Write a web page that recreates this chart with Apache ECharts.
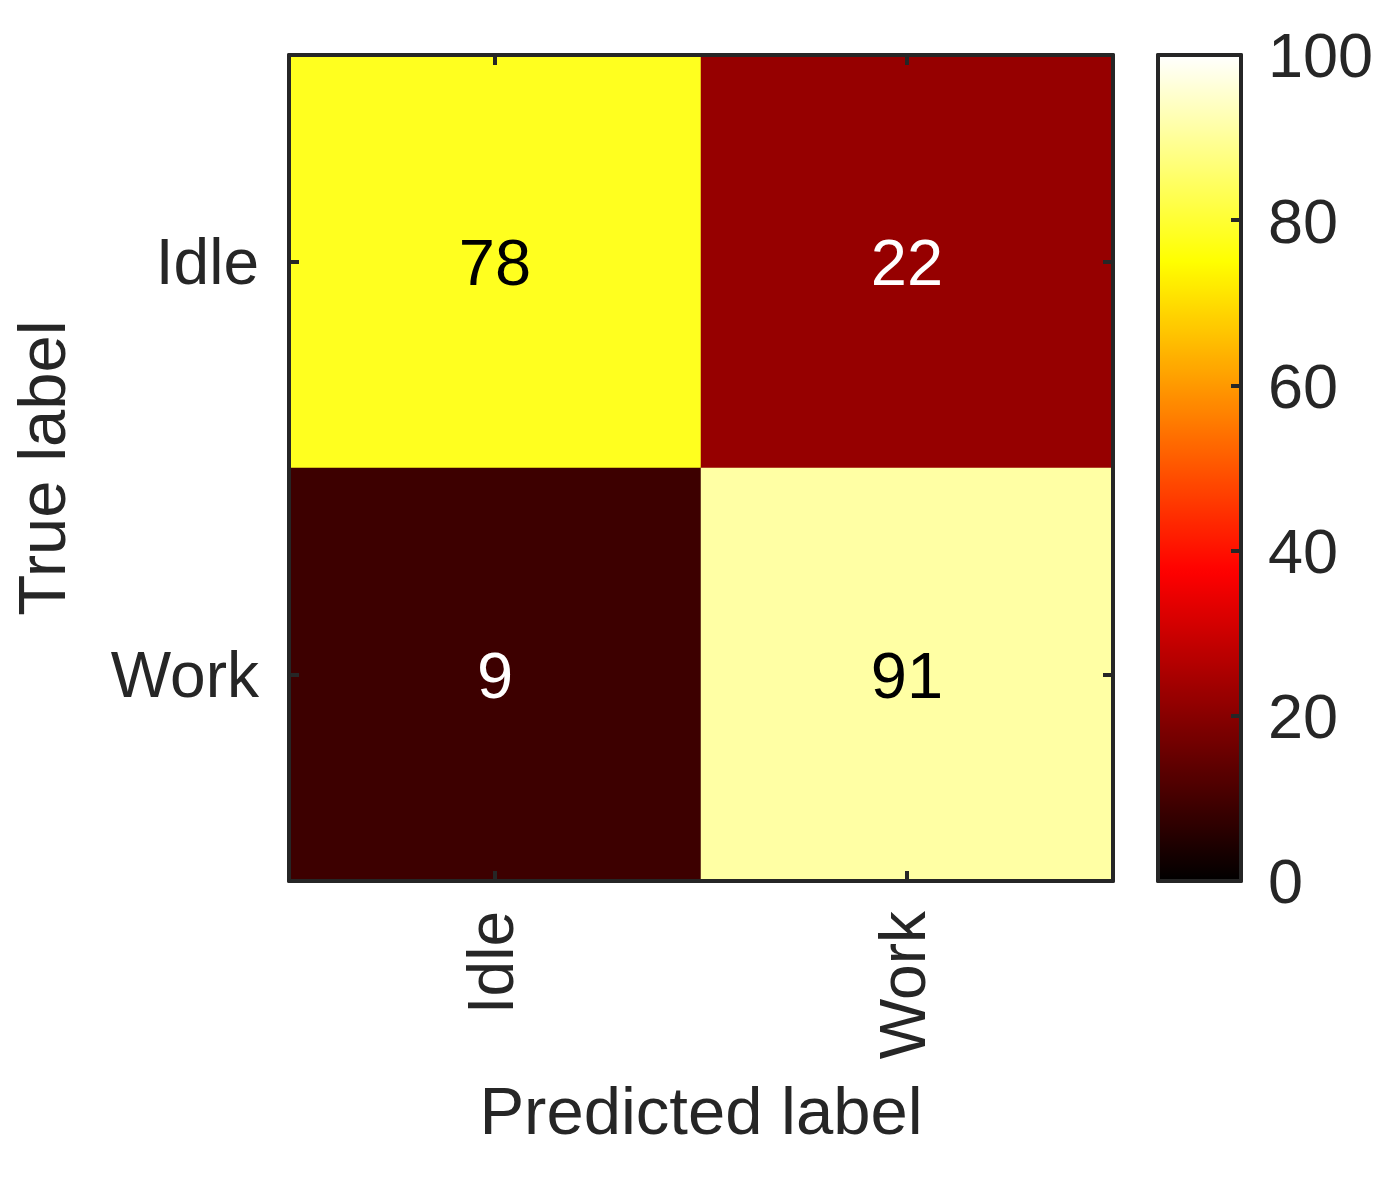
<!DOCTYPE html>
<html>
<head>
<meta charset="utf-8">
<script src="https://cdn.jsdelivr.net/npm/echarts@6/dist/echarts.min.js"></script>
<style>
html,body{margin:0;padding:0;background:#fff;}
#chart{width:1400px;height:1182px;}
</style>
</head>
<body>
<div id="chart"></div>
<script>
// ---- data ----
const predictedLabels = ['Idle', 'Work'];
const trueLabels = ['Idle', 'Work'];
// rows = true label, columns = predicted label
const rowIdle = [78, 22];
const rowWork = [9, 91];
const colorbarTicks = [0, 20, 40, 60, 80, 100];
// MATLAB "hot" colormap stops (low -> high)
const hotColors = ['#000000', '#550000', '#aa0000', '#ff0000', '#ff5500', '#ffaa00', '#ffff00', '#ffff80', '#ffffff'];

const rows = [rowIdle, rowWork];
const data = [];
rows.forEach(function (row, r) {
  row.forEach(function (v, c) {
    data.push({
      value: [c, r, v],
      label: { color: v > 50 ? '#000000' : '#ffffff' }
    });
  });
});

const FONT = '"Liberation Sans", Arial, Helvetica, sans-serif';
const AX = '#262626';
const LW = 4;
const chart = echarts.init(document.getElementById('chart'), null, { renderer: 'canvas' });

const option = {
  backgroundColor: '#ffffff',
  animation: false,
  textStyle: { fontFamily: FONT },
  grid: [
    { left: 289, top: 55, width: 824, height: 826, containLabel: false },
    { left: 1158, top: 55, width: 83, height: 826, containLabel: false }
  ],
  xAxis: [
    {
      gridIndex: 0, type: 'category', data: predictedLabels, position: 'bottom', z: 10,
      name: 'Predicted label', nameLocation: 'middle', nameGap: 201,
      nameTextStyle: { fontSize: 67, color: AX, fontFamily: FONT },
      axisLine: { show: true, lineStyle: { color: AX, width: LW } },
      axisTick: { show: true, inside: true, alignWithLabel: true, length: 10, lineStyle: { color: AX, width: LW } },
      axisLabel: { rotate: 90, fontSize: 64, color: AX, margin: 30, fontFamily: FONT, lineHeight: 56 },
      splitLine: { show: false }
    },
    {
      gridIndex: 0, type: 'category', data: predictedLabels, position: 'top', z: 10,
      axisLine: { show: true, lineStyle: { color: AX, width: LW } },
      axisTick: { show: true, inside: true, alignWithLabel: true, length: 10, lineStyle: { color: AX, width: LW } },
      axisLabel: { show: false },
      splitLine: { show: false }
    },
    {
      gridIndex: 1, type: 'value', min: 0, max: 1, position: 'bottom', z: 10,
      axisLine: { show: true, onZero: false, lineStyle: { color: AX, width: LW } },
      axisTick: { show: false }, axisLabel: { show: false }, splitLine: { show: false }
    },
    {
      gridIndex: 1, type: 'value', min: 0, max: 1, position: 'top', z: 10,
      axisLine: { show: true, onZero: false, lineStyle: { color: AX, width: LW } },
      axisTick: { show: false }, axisLabel: { show: false }, splitLine: { show: false }
    }
  ],
  yAxis: [
    {
      gridIndex: 0, type: 'category', data: trueLabels, inverse: true, position: 'left', z: 10,
      name: 'True label', nameLocation: 'middle', nameGap: 209, nameRotate: 90,
      nameTextStyle: { fontSize: 67, color: AX, fontFamily: FONT },
      axisLine: { show: true, lineStyle: { color: AX, width: LW } },
      axisTick: { show: true, inside: true, alignWithLabel: true, length: 10, lineStyle: { color: AX, width: LW } },
      axisLabel: {
        color: AX, margin: 30,
        formatter: function (v) { return '{t|' + v + '}'; },
        rich: { t: { fontSize: 64, color: AX, fontFamily: FONT, padding: [10, 0, 0, 0] } }
      },
      splitLine: { show: false }
    },
    {
      gridIndex: 0, type: 'category', data: trueLabels, inverse: true, position: 'right', z: 10,
      axisLine: { show: true, lineStyle: { color: AX, width: LW } },
      axisTick: { show: true, inside: true, alignWithLabel: true, length: 10, lineStyle: { color: AX, width: LW } },
      axisLabel: { show: false },
      splitLine: { show: false }
    },
    {
      gridIndex: 1, type: 'value', min: 0, max: 100, interval: 20, position: 'right', z: 10,
      axisLine: { show: true, onZero: false, lineStyle: { color: AX, width: LW } },
      axisTick: { show: true, inside: true, length: 10, lineStyle: { color: AX, width: LW } },
      axisLabel: {
        color: AX, margin: 27,
        formatter: function (v) { return colorbarTicks.indexOf(v) >= 0 ? '{t|' + v + '}' : ''; },
        rich: { t: { fontSize: 63, color: AX, fontFamily: FONT, padding: [10, 0, 0, 0] } }
      },
      splitLine: { show: false }
    },
    {
      gridIndex: 1, type: 'value', min: 0, max: 100, interval: 20, position: 'left', z: 10,
      axisLine: { show: true, onZero: false, lineStyle: { color: AX, width: LW } },
      axisTick: { show: false }, axisLabel: { show: false }, splitLine: { show: false }
    }
  ],
  visualMap: {
    type: 'continuous',
    min: 0, max: 100,
    orient: 'vertical',
    left: 1158, top: 55,
    itemWidth: 83, itemHeight: 826,
    padding: 0,
    calculable: false,
    realtime: false,
    showLabel: false,
    text: null,
    seriesIndex: 0,
    inRange: { color: hotColors },
    z: 4
  },
  series: [
    {
      type: 'heatmap',
      xAxisIndex: 0, yAxisIndex: 0,
      data: data,
      label: {
        show: true, fontSize: 65, fontFamily: FONT, offset: [0, 6],
        formatter: function (p) { return String(p.value[2]); }
      },
      itemStyle: { borderWidth: 0 },
      emphasis: { disabled: true }
    }
  ]
};
chart.setOption(option);
</script>
</body>
</html>
